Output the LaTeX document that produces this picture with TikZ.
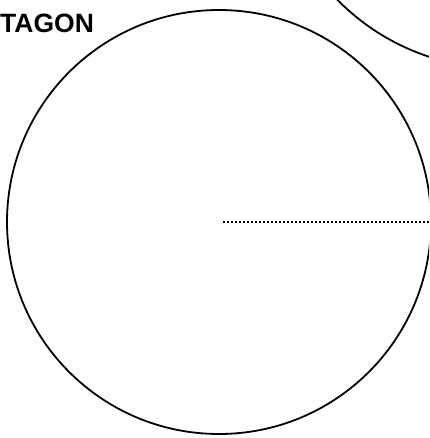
\documentclass[tikz,border=0pt]{standalone}
\usepackage{fontspec}
\setmainfont{Liberation Sans}
\usetikzlibrary{positioning}

\begin{document}
\begin{tikzpicture}[
    x=1pt, y=-1pt,
    outline/.style={draw, circle, line width=1.8pt, inner sep=0pt},
    radius line/.style={line width=2pt, dash pattern=on 2pt off 2pt},
    title/.style={font=\fontsize{26.5}{26.5}\selectfont\bfseries, inner sep=0pt, anchor=north west}
]

% -------------------------------------------------------------------------
% Frame (the page size of the reference)
% -------------------------------------------------------------------------
\useasboundingbox (0,0) rectangle (429,438);
\clip (0,0) rectangle (429,438);

% Main circle and its neighbour, cut by the frame
\node[outline, minimum size=424pt] (Main) at (219, 222) {};
\node[outline, minimum size=456pt] (Next) at (500, -160) {};

% Heading
\node[title] (Heading) at (0, 14) {TAGON};

% Dotted radius
\draw[radius line] ([xshift=4pt]Main.center) -- (Main.east);

\end{tikzpicture}
\end{document}
